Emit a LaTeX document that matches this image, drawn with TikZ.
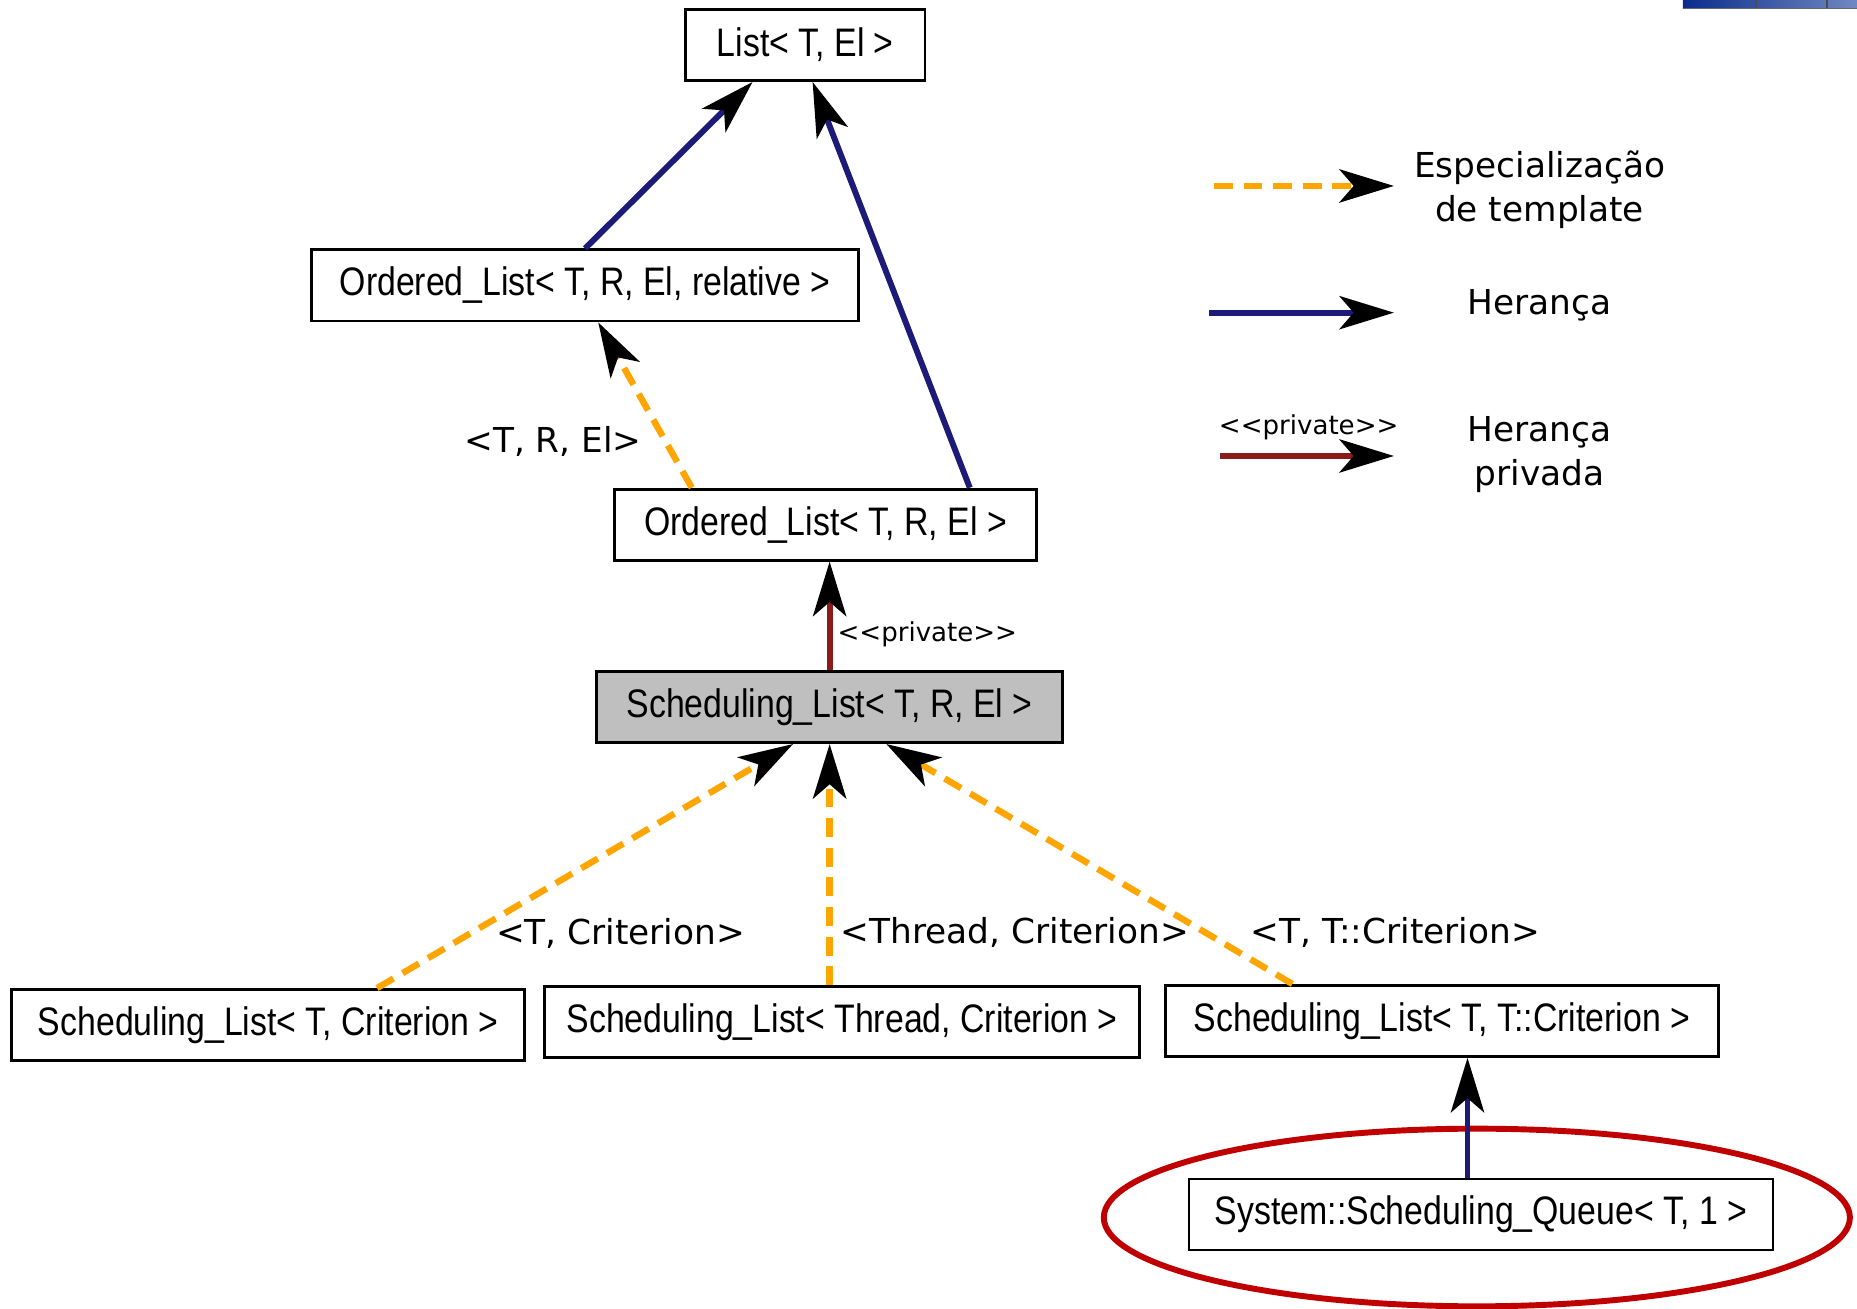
\documentclass[tikz,border=0pt]{standalone}
\usepackage{fontspec}
\usetikzlibrary{arrows.meta,calc}
\newfontfamily\boxfont[FakeStretch=0.85]{Liberation Sans}
\newfontfamily\labfont{DejaVu Sans}
\definecolor{inhblue}{RGB}{28,28,120}
\definecolor{privred}{RGB}{140,26,26}
\definecolor{specorange}{RGB}{255,165,0}
\definecolor{ringred}{RGB}{192,0,0}
\definecolor{clsgray}{RGB}{191,191,191}
\definecolor{bardark}{RGB}{10,44,140}
\definecolor{barlight}{RGB}{112,137,194}
\tikzset{
  cls/.style={draw=black, line width=1.2pt, fill=white, inner sep=0pt,
    minimum height=30pt, font=\boxfont\fontsize{16.8}{20}\selectfont},
  headtip/.style={-{Stealth[length=23pt,width=14pt,inset=6pt,black]}},
  spec/.style={headtip, draw=specorange, line width=2.7pt, dash pattern=on 8pt off 4.5pt},
  inh/.style={headtip, draw=inhblue, line width=2.5pt},
  priv/.style={headtip, draw=privred, line width=2.5pt},
  lab/.style={font=\labfont\fontsize{14.5}{18.5}\selectfont, inner sep=0pt, align=center},
  smalllab/.style={font=\labfont\fontsize{11}{13}\selectfont, inner sep=0pt},
}
\begin{document}
\begin{tikzpicture}[x=0.5pt,y=-0.5pt]
\useasboundingbox[fill=white] (0,0) rectangle (1568,1105);

% toolbar strip in the corner
\shade[left color=bardark, right color=barlight] (1421,0) rectangle (1568,7);
\draw[black!70, line width=0.8pt] (1483,0) -- (1483,7) (1543,0) -- (1543,7);
\draw[black!60, line width=0.6pt] (1421,7) -- (1568,7);

% highlight ring
\draw[ringred, line width=2.5pt] (1247,1028) ellipse [x radius=315, y radius=75];

% classes
\node[cls, minimum width=101pt]   (list)  at (680,38)     {List< T, El >};
\node[cls, minimum width=231pt]   (olrel) at (494,241)    {Ordered\_List< T, R, El, relative >};
\node[cls, minimum width=178pt]   (ol)    at (697,443)    {Ordered\_List< T, R, El >};
\node[cls, minimum width=196.5pt, fill=clsgray] (sl) at (700.5,597) {Scheduling\_List< T, R, El >};
\node[cls, minimum width=216.5pt] (sltc)  at (226.5,865.5) {Scheduling\_List< T, Criterion >};
\node[cls, minimum width=251pt]   (slth)  at (711,863)    {Scheduling\_List< Thread, Criterion >};
\node[cls, minimum width=233.5pt] (sltt)  at (1217.5,862) {Scheduling\_List< T, T::Criterion >};
\node[cls, minimum width=246.5pt] (sq)    at (1250.5,1025.5) {System::Scheduling\_Queue< T, 1 >};

% relations
\draw[inh] (olrel.north) -- ($(list.south west)!0.282!(list.south east)$);
\draw[inh] ($(ol.north west)!0.84!(ol.north east)$) -- ($(list.south west)!0.53!(list.south east)$);
\draw[spec] ($(ol.north west)!0.185!(ol.north east)$) -- ($(olrel.south west)!0.524!(olrel.south east)$);
\draw[priv] (sl.north) -- (sl.north |- ol.south);
\draw[spec] ($(sltc.north west)!0.711!(sltc.north east)$) -- ($(sl.south west)!0.422!(sl.south east)$);
\draw[spec] (sl.south |- slth.north) -- (sl.south);
\draw[spec] ($(sltt.north west)!0.231!(sltt.north east)$) -- ($(sl.south west)!0.621!(sl.south east)$);
\coordinate (sqtop) at ($(sq.north west)!0.477!(sq.north east)$);
\draw[inh] (sqtop) -- (sqtop |- sltt.south);

% relation labels
\node[lab] (lrel) at (467,373) {<T, R, El>};
\node[smalllab] (lpriv) at (783,536) {<<private>>};
\node[lab] (ltc) at (524,788) {<T, Criterion>};
\node[lab] (lth) at (857,787) {<Thread, Criterion>};
\node[lab] (ltt) at (1178,787) {<T, T::Criterion>};

% legend
\coordinate (k1a) at (1025,157); \coordinate (k1b) at (1177,157);
\coordinate (k2a) at (1021,264); \coordinate (k2b) at (1177,264);
\coordinate (k3a) at (1030,385); \coordinate (k3b) at (1177,385);
\draw[spec] (k1a) -- (k1b);
\draw[inh]  (k2a) -- (k2b);
\draw[priv] (k3a) -- (k3b);
\node[lab] (t1) at (1300,160) {Especialização\\de template};
\node[lab] (t2) at (1300,258) {Herança};
\node[smalllab] (t3p) at (1105,361) {<<private>>};
\node[lab] (t3) at (1300,384) {Herança\\privada};
\end{tikzpicture}
\end{document}
